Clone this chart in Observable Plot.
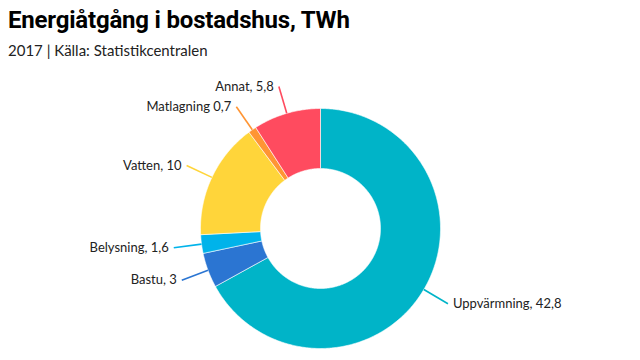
<!DOCTYPE html>
<html>
<head>
<meta charset="utf-8">
<script src="https://cdn.jsdelivr.net/npm/d3@7"></script>
<script src="https://cdn.jsdelivr.net/npm/@observablehq/plot@0.6"></script>
<style>
  html, body { margin: 0; padding: 0; background: #fff; }
  #wrap { position: relative; width: 640px; height: 360px; overflow: hidden; }
  #head { position: absolute; left: 8px; top: 0; }
  #title { font-family: Roboto, sans-serif; font-weight: 700; font-size: 24px; color: #000; position: absolute; top: 6px; left: 0; white-space: nowrap; letter-spacing: -0.2px; }
  #sub { font-family: Lato, sans-serif; font-size: 15px; color: #222; position: absolute; top: 41px; left: 0; white-space: nowrap; }
  #chart { position: absolute; left: 0; top: 0; }
</style>
</head>
<body>
<div id="wrap">
  <div id="chart"></div>
  <div id="head">
    <div id="title">Energiåtgång i bostadshus, TWh</div>
    <div id="sub">2017 | Källa: Statistikcentralen</div>
  </div>
</div>
<script>
const categories = ["Uppvärmning", "Bastu", "Belysning", "Vatten", "Matlagning", "Annat"];
const values = [42.8, 3, 1.6, 10, 0.7, 5.8];
const labels = ["Uppvärmning, 42,8", "Bastu, 3", "Belysning, 1,6", "Vatten, 10", "Matlagning 0,7", "Annat, 5,8"];
const colors = ["#00b4c8", "#2b75d2", "#00b3ea", "#ffd53a", "#ff9534", "#ff4b5f"];

const data = categories.map((name, i) => ({name, value: values[i], label: labels[i]}));
const arcs = d3.pie().sort(null).value(d => d.value)(data);

const R_OUT = 120, R_IN = 60, R_LINE = 148, R_LABEL = 148;

const ring = [];
for (const a of arcs) {
  const n = Math.max(2, Math.ceil((a.endAngle - a.startAngle) / 0.01));
  const pts = [];
  for (let k = 0; k <= n; k++) {
    const t = a.startAngle + (a.endAngle - a.startAngle) * k / n;
    pts.push([R_OUT * Math.sin(t), -R_OUT * Math.cos(t)]);
  }
  for (let k = n; k >= 0; k--) {
    const t = a.startAngle + (a.endAngle - a.startAngle) * k / n;
    pts.push([R_IN * Math.sin(t), -R_IN * Math.cos(t)]);
  }
  pts.push(pts[0]);
  for (const [x, y] of pts) ring.push({name: a.data.name, x, y});
}

const mids = arcs.map(a => {
  const m = (a.startAngle + a.endAngle) / 2;
  return {name: a.data.name, label: a.data.label, m,
    x1: R_OUT * Math.sin(m), y1: -R_OUT * Math.cos(m),
    x2: R_LINE * Math.sin(m), y2: -R_LINE * Math.cos(m),
    xl: R_LABEL * Math.sin(m), yl: -R_LABEL * Math.cos(m)};
});

const chart = Plot.plot({
  width: 640,
  height: 360,
  margin: 0,
  style: {fontFamily: "Lato, sans-serif", fontSize: "13px", color: "#222", background: "transparent"},
  x: {domain: [-320, 320], range: [0, 640], axis: null},
  y: {domain: [-228, 132], range: [0, 360], axis: null},
  color: {domain: categories, range: colors},
  marks: [
    Plot.line(ring, {x: "x", y: "y", z: "name", fill: "name", stroke: "white", strokeWidth: 0.6, curve: "linear"}),
    Plot.link(mids, {x1: "x1", y1: "y1", x2: "x2", y2: "y2", stroke: "name", strokeWidth: 1.6}),
    Plot.text(mids.filter(d => d.m < Math.PI), {x: "xl", y: "yl", text: "label", textAnchor: "start", dx: 5, fill: "#222"}),
    Plot.text(mids.filter(d => d.m >= Math.PI), {x: "xl", y: "yl", text: "label", textAnchor: "end", dx: -5, fill: "#222"})
  ]
});
document.getElementById("chart").appendChild(chart);
</script>
</body>
</html>
